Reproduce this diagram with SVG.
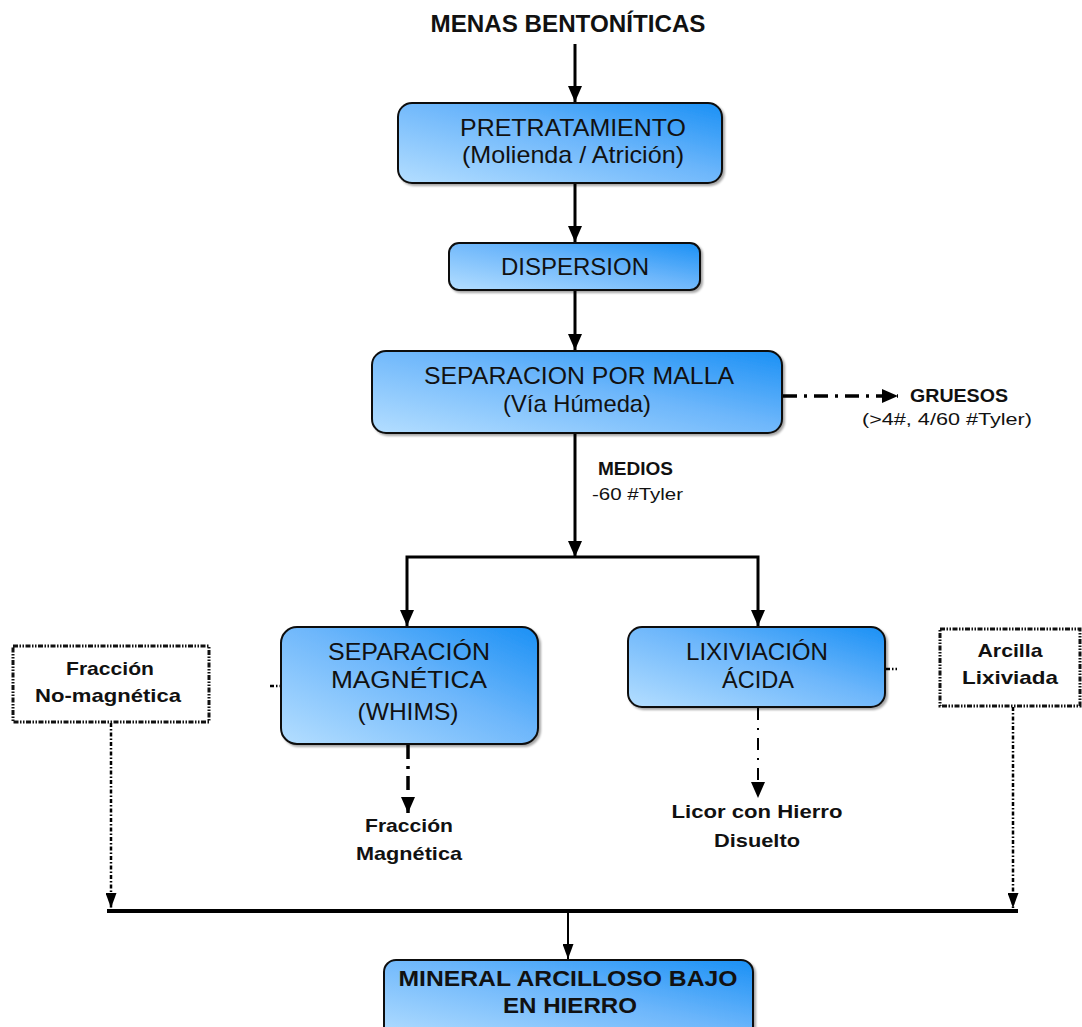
<svg xmlns="http://www.w3.org/2000/svg" width="1082" height="1027" viewBox="0 0 1082 1027">
  <defs>
    <linearGradient id="boxFill" x1="0" y1="1" x2="1" y2="0">
      <stop offset="0" stop-color="#b4deff"/>
      <stop offset="0.55" stop-color="#6cb6fb"/>
      <stop offset="1" stop-color="#1a90f5"/>
    </linearGradient>
    <filter id="shadow" x="-5%" y="-5%" width="112%" height="120%">
      <feDropShadow dx="2" dy="2" stdDeviation="1.2" flood-color="#000" flood-opacity="0.35"/>
    </filter>
    <!-- heavy arrowhead, tip at the path end -->
    <marker id="arrow" markerUnits="userSpaceOnUse" viewBox="0 0 16 14" markerWidth="16" markerHeight="14" refX="16" refY="7" orient="auto-start-reverse">
      <path d="M0,0 L16,7 L0,14 Z" fill="#000"/>
    </marker>
    <!-- small arrowhead for the thin and dotted lines -->
    <marker id="arrowS" markerUnits="userSpaceOnUse" viewBox="0 0 15 11" markerWidth="15" markerHeight="11" refX="15" refY="5.5" orient="auto">
      <path d="M0,0 L15,5.5 L0,11 Z" fill="#000"/>
    </marker>
  </defs>
  <style>
    .box { fill: url(#boxFill); stroke: #111; stroke-width: 2; filter: url(#shadow); }
    .dotbox { fill: #fff; stroke: #111; stroke-width: 3; stroke-dasharray: 5 1.5 1.5 1.5 1.5 1.5; }
    .t { font-family: "Liberation Sans", Arial, sans-serif; fill: #111; text-anchor: middle; }
    .reg { font-size: 24px; }
    .bold { font-weight: bold; }
    .lbl { font-size: 19px; font-weight: bold; }
    .small { font-size: 17px; }
    .line { stroke: #000; stroke-width: 3; fill: none; }
    .thin { stroke: #000; stroke-width: 2; fill: none; }
    .dashdot { stroke: #000; stroke-width: 3.5; fill: none; stroke-dasharray: 14 7 3 7; }
    .dashdotThin { stroke: #000; stroke-width: 2; fill: none; stroke-dasharray: 12 8 2 8; }
    .dotted { stroke: #000; stroke-width: 2.5; fill: none; stroke-dasharray: 4 2 1.5 2; }
  </style>

  <!-- source material label -->
  <g id="menas">
    <text class="t bold" x="568" y="32" font-size="23" textLength="275" lengthAdjust="spacingAndGlyphs">MENAS BENTONÍTICAS</text>
  </g>

  <!-- connectors -->
  <g id="connectors">
    <line class="line" x1="575" y1="44" x2="575" y2="102" marker-end="url(#arrow)"/>
    <line class="line" x1="575" y1="184" x2="575" y2="242" marker-end="url(#arrow)"/>
    <line class="line" x1="575" y1="291" x2="575" y2="350" marker-end="url(#arrow)"/>
    <line class="dashdot" x1="783" y1="396" x2="898" y2="396" marker-end="url(#arrow)"/>
    <line class="line" x1="575" y1="434" x2="575" y2="557" marker-end="url(#arrow)"/>
    <polyline class="line" points="407,626 407,557 758,557 758,626" marker-start="url(#arrow)" marker-end="url(#arrow)"/>
    <line class="dashdot" x1="408" y1="745" x2="408" y2="813" marker-end="url(#arrow)"/>
    <line class="dashdotThin" x1="758" y1="708" x2="758" y2="798" marker-end="url(#arrow)"/>
    <line class="dotted" x1="270" y1="686" x2="281" y2="686"/>
    <line class="dotted" x1="886" y1="669" x2="897" y2="669"/>
    <line class="dotted" x1="111" y1="723" x2="111" y2="908" marker-end="url(#arrowS)"/>
    <line class="dotted" x1="1013" y1="707" x2="1013" y2="908" marker-end="url(#arrowS)"/>
    <line stroke="#000" stroke-width="4" x1="107" y1="911" x2="1018" y2="911"/>
    <line class="thin" x1="568" y1="912" x2="568" y2="959" marker-end="url(#arrowS)"/>
  </g>

  <g id="pretratamiento">
    <rect class="box" x="398" y="103" width="324" height="80" rx="14"/>
    <text class="t reg" x="573" y="136" textLength="226" lengthAdjust="spacingAndGlyphs">PRETRATAMIENTO</text>
    <text class="t reg" x="573" y="163" textLength="222" lengthAdjust="spacingAndGlyphs">(Molienda / Atrición)</text>
  </g>

  <g id="dispersion">
    <rect class="box" x="449" y="243" width="251" height="47" rx="10"/>
    <text class="t reg" x="575" y="275" textLength="148" lengthAdjust="spacingAndGlyphs">DISPERSION</text>
  </g>

  <g id="separacion-malla">
    <rect class="box" x="372" y="351" width="410" height="82" rx="14"/>
    <text class="t reg" x="579" y="384" textLength="310" lengthAdjust="spacingAndGlyphs">SEPARACION POR MALLA</text>
    <text class="t reg" x="577" y="412" textLength="148" lengthAdjust="spacingAndGlyphs">(Vía Húmeda)</text>
  </g>

  <g id="gruesos">
    <text class="t lbl" x="910" y="402" style="text-anchor:start" textLength="98" lengthAdjust="spacingAndGlyphs">GRUESOS</text>
    <text class="t small" x="947" y="425" textLength="170" lengthAdjust="spacingAndGlyphs">(&gt;4#, 4/60 #Tyler)</text>
  </g>

  <g id="medios">
    <text class="t lbl" x="598" y="475" style="text-anchor:start" textLength="75" lengthAdjust="spacingAndGlyphs">MEDIOS</text>
    <text class="t small" x="592" y="500" style="text-anchor:start" textLength="91" lengthAdjust="spacingAndGlyphs">-60 #Tyler</text>
  </g>

  <g id="separacion-magnetica">
    <rect class="box" x="281" y="627" width="257" height="117" rx="16"/>
    <text class="t reg" x="409" y="660" textLength="162" lengthAdjust="spacingAndGlyphs">SEPARACIÓN</text>
    <text class="t reg" x="409" y="688" textLength="156" lengthAdjust="spacingAndGlyphs">MAGNÉTICA</text>
    <text class="t reg" x="408" y="720" textLength="101" lengthAdjust="spacingAndGlyphs">(WHIMS)</text>
  </g>

  <g id="lixiviacion">
    <rect class="box" x="628" y="627" width="257" height="80" rx="14"/>
    <text class="t reg" x="757" y="660" textLength="142" lengthAdjust="spacingAndGlyphs">LIXIVIACIÓN</text>
    <text class="t reg" x="758" y="688" textLength="72" lengthAdjust="spacingAndGlyphs">ÁCIDA</text>
  </g>

  <g id="fraccion-no-magnetica">
    <rect class="dotbox" x="13" y="646" width="196" height="76"/>
    <text class="t lbl" x="110" y="675" textLength="88" lengthAdjust="spacingAndGlyphs">Fracción</text>
    <text class="t lbl" x="108" y="702" textLength="146" lengthAdjust="spacingAndGlyphs">No-magnética</text>
  </g>

  <g id="arcilla-lixiviada">
    <rect class="dotbox" x="940" y="629" width="140" height="77"/>
    <text class="t lbl" x="1010" y="657" textLength="65" lengthAdjust="spacingAndGlyphs">Arcilla</text>
    <text class="t lbl" x="1010" y="684" textLength="96" lengthAdjust="spacingAndGlyphs">Lixiviada</text>
  </g>

  <g id="fraccion-magnetica">
    <text class="t lbl" x="409" y="832" textLength="88" lengthAdjust="spacingAndGlyphs">Fracción</text>
    <text class="t lbl" x="409" y="860" textLength="106" lengthAdjust="spacingAndGlyphs">Magnética</text>
  </g>

  <g id="licor">
    <text class="t lbl" x="757" y="818" textLength="171" lengthAdjust="spacingAndGlyphs">Licor con Hierro</text>
    <text class="t lbl" x="757" y="847" textLength="86" lengthAdjust="spacingAndGlyphs">Disuelto</text>
  </g>

  <g id="mineral-final">
    <rect class="box" x="384" y="960" width="369" height="80" rx="12"/>
    <text class="t bold" x="568" y="986" font-size="22" textLength="339" lengthAdjust="spacingAndGlyphs">MINERAL ARCILLOSO BAJO</text>
    <text class="t bold" x="570" y="1013" font-size="22" textLength="134" lengthAdjust="spacingAndGlyphs">EN HIERRO</text>
  </g>
</svg>
